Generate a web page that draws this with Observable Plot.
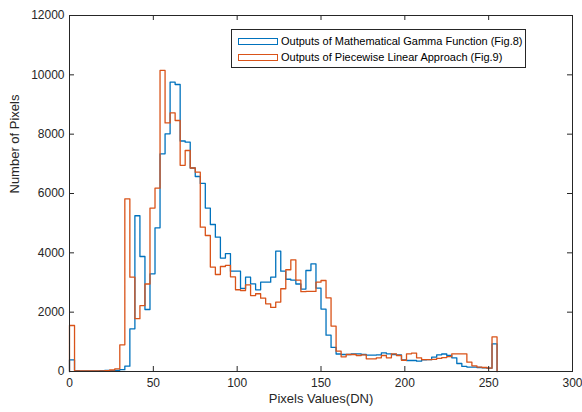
<!DOCTYPE html>
<html>
<head>
<meta charset="utf-8">
<script src="https://cdn.jsdelivr.net/npm/d3@7"></script>
<script src="https://cdn.jsdelivr.net/npm/@observablehq/plot@0.6"></script>
<style>
  html, body { margin: 0; padding: 0; background: #fff; }
  #wrap { position: relative; width: 582px; height: 412px; font-family: "Liberation Sans", Arial, sans-serif; }
  #legend { position: absolute; left: 231px; top: 29px; width: 295px; height: 39px; border: 1px solid #262626; background: #fff; box-sizing: border-box; font-size: 11px; color: #000; }
  .row { position: absolute; left: 6px; height: 14px; display: flex; align-items: center; white-space: nowrap; }
  .sw { width: 40px; height: 7px; box-sizing: border-box; border: 1px solid; margin-right: 3px; flex: none; }
</style>
</head>
<body>
<div id="wrap">
  <div id="chart"></div>
  <div id="legend"></div>
</div>
<script>
// Bin width of the histograms (pixel value units)
const binWidth = 3;
const xTicks = [0, 50, 100, 150, 200, 250, 300];
const yTicks = [0, 2000, 4000, 6000, 8000, 10000, 12000];
const seriesNames = ["Outputs of Mathematical Gamma Function (Fig.8)", "Outputs of Piecewise Linear Approach (Fig.9)"];
const seriesColors = ["#0072BD", "#D95319"];

// Counts per bin [0,3), [3,6), ... [252,255]
const gammaCounts = [
  390, 30, 20, 20, 20, 20, 30, 40, 30, 40,
  60, 180, 1440, 5250, 3877, 2090, 3293, 4843, 7338, 8012,
  9753, 9675, 7770, 7730, 6860, 6573, 6340, 5510, 4955, 4528,
  3825, 3975, 3381, 3381, 2800, 3180, 2955, 2754, 3011, 3011,
  3180, 4056, 3381, 3110, 3080, 2950, 2780, 3405, 3630, 2809,
  2105, 1225, 810, 590, 573, 573, 596, 596, 573, 551,
  551, 562, 629, 596, 573, 562, 394, 371, 371, 348,
  394, 400, 483, 562, 590, 540, 461, 270, 170, 150,
  146, 135, 124, 112, 933
];
const piecewiseCounts = [
  1550, 20, 20, 20, 20, 20, 20, 30, 50, 90,
  900, 5820, 3180, 1780, 2220, 2950, 5510, 6180, 10150, 8380,
  8720, 8460, 6950, 7450, 6860, 6720, 4865, 4585, 3520, 3270,
  3540, 3580, 3190, 2755, 2730, 2920, 2560, 2620, 2470, 2280,
  2160, 2340, 2790, 3430, 3765, 3080, 2690, 2700, 2700, 3010,
  3068, 2484, 1530, 685, 495, 573, 573, 540, 562, 427,
  427, 461, 540, 461, 596, 540, 380, 596, 620, 461,
  400, 400, 410, 440, 470, 500, 596, 596, 596, 315,
  191, 150, 135, 112, 1165
];

function stairs(counts) {
  const pts = [{x: 0, y: 0}];
  counts.forEach((c, i) => pts.push({x: i * binWidth, y: c}));
  pts.push({x: counts.length * binWidth, y: 0});
  return pts;
}

const ink = "#262626";
const chart = Plot.plot({
  width: 582,
  height: 412,
  marginLeft: 69,
  marginRight: 10,
  marginTop: 15,
  marginBottom: 41,
  style: {fontFamily: "'Liberation Sans', Arial, sans-serif", fontSize: "12px", color: ink, background: "#fff"},
  x: {domain: [0, 300]},
  y: {domain: [0, 12000]},
  marks: [
    Plot.line(stairs(gammaCounts), {x: "x", y: "y", curve: "step-after", stroke: seriesColors[0], strokeWidth: 1.3}),
    Plot.line(stairs(piecewiseCounts), {x: "x", y: "y", curve: "step-after", stroke: seriesColors[1], strokeWidth: 1.3}),
    Plot.frame({stroke: ink}),
    Plot.tickX(xTicks, {x: d => d, insetTop: 351, stroke: ink}),
    Plot.tickX(xTicks, {x: d => d, insetBottom: 351, stroke: ink}),
    Plot.tickY(yTicks, {y: d => d, insetRight: 498, stroke: ink}),
    Plot.tickY(yTicks, {y: d => d, insetLeft: 498, stroke: ink}),
    Plot.axisX(xTicks, {tickSize: 0, tickPadding: 7, label: null, fontSize: 12}),
    Plot.axisY(yTicks, {tickSize: 0, tickPadding: 5, label: null, fontSize: 12, tickFormat: d3.format("d")}),
    Plot.text(["Pixels Values(DN)"], {text: d => d, frameAnchor: "bottom", dy: 31, fontSize: 13, fill: ink}),
    Plot.text(["Number of Pixels"], {text: d => d, frameAnchor: "left", dx: -55, rotate: -90, fontSize: 13, fill: ink})
  ]
});
document.getElementById("chart").appendChild(chart);

const legend = document.getElementById("legend");
seriesNames.forEach((name, i) => {
  const row = document.createElement("div");
  row.className = "row";
  row.style.top = (i === 0 ? 4 : 20) + "px";
  const sw = document.createElement("div");
  sw.className = "sw";
  sw.style.borderColor = seriesColors[i];
  const t = document.createElement("span");
  t.textContent = name;
  row.appendChild(sw);
  row.appendChild(t);
  legend.appendChild(row);
});
</script>
</body>
</html>
